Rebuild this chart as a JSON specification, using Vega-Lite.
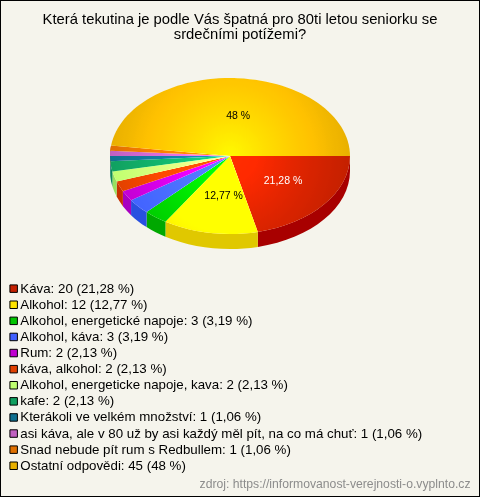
{
"$schema":"https://vega.github.io/schema/vega-lite/v6.json",
"width":480,"height":497,"padding":0,"autosize":{"type":"none"},
"background":"#f5f4ec",
"config":{"view":{"stroke":"#000000","strokeWidth":2},"font":"Liberation Sans"},
"title":{"text":["Která tekutina je podle Vás špatná pro 80ti letou seniorku se","srdečními potížemi?"],"font":"Liberation Sans","fontSize":14.8,"fontWeight":"normal","color":"#000000","anchor":"middle","frame":"group","offset":-42,"lineHeight":15},
"data":{"values":[
{"poradi":1,"odpoved":"Káva","pocet":20,"podil":"21,28"},
{"poradi":2,"odpoved":"Alkohol","pocet":12,"podil":"12,77"},
{"poradi":3,"odpoved":"Alkohol, energetické napoje","pocet":3,"podil":"3,19"},
{"poradi":4,"odpoved":"Alkohol, káva","pocet":3,"podil":"3,19"},
{"poradi":5,"odpoved":"Rum","pocet":2,"podil":"2,13"},
{"poradi":6,"odpoved":"káva, alkohol","pocet":2,"podil":"2,13"},
{"poradi":7,"odpoved":"Alkohol, energeticke napoje, kava","pocet":2,"podil":"2,13"},
{"poradi":8,"odpoved":"kafe","pocet":2,"podil":"2,13"},
{"poradi":9,"odpoved":"Kterákoli ve velkém množství","pocet":1,"podil":"1,06"},
{"poradi":10,"odpoved":"asi káva, ale v 80 už by asi každý měl pít, na co má chuť","pocet":1,"podil":"1,06"},
{"poradi":11,"odpoved":"Snad nebude pít rum s Redbullem","pocet":1,"podil":"1,06"},
{"poradi":12,"odpoved":"Ostatní odpovědi","pocet":45,"podil":"48"}
]},
"transform":[
{"window":[{"op":"sum","field":"pocet","as":"kum"}],"sort":[{"field":"poradi"}]},
{"calculate":"2*PI*(datum.kum-datum.pocet)/94","as":"a0"},
{"calculate":"2*PI*datum.kum/94","as":"a1"},
{"calculate":"round(12000*cos(datum.a0))/100","as":"x0"},
{"calculate":"round(7800*sin(datum.a0))/100","as":"y0"},
{"calculate":"round(12000*cos(datum.a1))/100","as":"x1"},
{"calculate":"round(7800*sin(datum.a1))/100","as":"y1"},
{"calculate":"'M0,0L'+datum.x0+','+datum.y0+'A120,78,0,0,1,'+datum.x1+','+datum.y1+'Z'","as":"vysec"},
{"calculate":"'M'+datum.x0+','+datum.y0+'A120,78,0,0,1,'+datum.x1+','+datum.y1+'L'+datum.x1+','+(datum.y1+15)+'A120,78,0,0,0,'+datum.x0+','+(datum.y0+15)+'Z'","as":"stena"},
{"calculate":"datum.odpoved+': '+datum.pocet+' ('+datum.podil+' %)'","as":"popis"},
{"calculate":"datum.podil+' %'","as":"stitek"},
{"calculate":"(datum.a0+datum.a1)/2","as":"stred"},
{"calculate":"62.4*cos(datum.stred)+4","as":"lx"},
{"calculate":"40.5*sin(datum.stred)","as":"ly"}
],
"layer":[
{"transform":[{"filter":"datum.poradi<12"}],
 "mark":{"type":"point","filled":true,"opacity":1,"size":4,"strokeWidth":0},
 "encoding":{
 "x":{"datum":0,"type":"quantitative","scale":{"domain":[-230,250],"nice":false,"zero":false},"axis":{"title":"zdroj: https://informovanost-verejnosti-o.vyplnto.cz","domain":false,"ticks":false,"labels":false,"grid":false,"titleFont":"Liberation Sans","titleFontSize":12.2,"titleFontWeight":"normal","titleColor":"#8c8c8c","titleX":470,"titleY":-10,"titleAlign":"right","titleAnchor":null,"titleBaseline":"alphabetic"}},
 "y":{"datum":0,"type":"quantitative","scale":{"domain":[341,-156],"nice":false,"zero":false},"axis":null},
 "shape":{"field":"stena","type":"nominal","scale":null,"legend":null},
 "color":{"field":"odpoved","type":"nominal","sort":null,"legend":null,"scale":{"range":["#a80000","#e0c800","#00a800","#2850e0","#a800c0","#c83000","#98e060","#0c8858","#0c6080","#a850a8","#c86000"]}}}},
{"mark":{"type":"point","filled":true,"opacity":1,"size":4,"strokeWidth":0},
 "encoding":{
 "x":{"datum":0,"type":"quantitative"},
 "y":{"datum":0,"type":"quantitative"},
 "shape":{"field":"vysec","type":"nominal","scale":null,"legend":null},
 "color":{"field":"popis","type":"nominal","sort":null,"scale":{"range":["#c42000","#ffe400","#00c400","#4060ff","#c000d0","#e04000","#c0ff70","#10a060","#107090","#c060c0","#e07000","#e8b000"]},
 "legend":{"title":null,"orient":"none","legendX":7,"legendY":282,"symbolType":"square","symbolSize":56,"symbolStrokeColor":"#000000","symbolStrokeWidth":1,"symbolOpacity":1,"labelFont":"Liberation Sans","labelFontSize":13.3,"labelColor":"#000000","labelLimit":470,"labelOffset":0,"rowPadding":2.1,"symbolLimit":12}}}},
{"data":{"values":[{"vrstva":"prosvetleni"}]},
 "mark":{"type":"point","filled":true,"opacity":1,"size":4,"strokeWidth":0,"blend":"color-dodge","shape":"M-120,0A120,78,0,1,1,120,0A120,78,0,1,1,-120,0Z",
 "fill":{"gradient":"radial","stops":[{"offset":0,"color":"#4c4c4c"},{"offset":0.5,"color":"#262626"},{"offset":1,"color":"#000000"}]}},
 "encoding":{"x":{"datum":0,"type":"quantitative"},"y":{"datum":0,"type":"quantitative"}}},
{"transform":[{"filter":"datum.pocet>10"}],
 "mark":{"type":"text","font":"Liberation Sans","fontSize":10.5,"baseline":"middle","align":"center"},
 "encoding":{"x":{"field":"lx","type":"quantitative"},"y":{"field":"ly","type":"quantitative"},
 "text":{"field":"stitek"},
 "color":{"condition":{"test":"datum.poradi==1","value":"#ffffff"},"value":"#000000"}}}
],
"resolve":{"scale":{"color":"independent","shape":"independent"}}
}
